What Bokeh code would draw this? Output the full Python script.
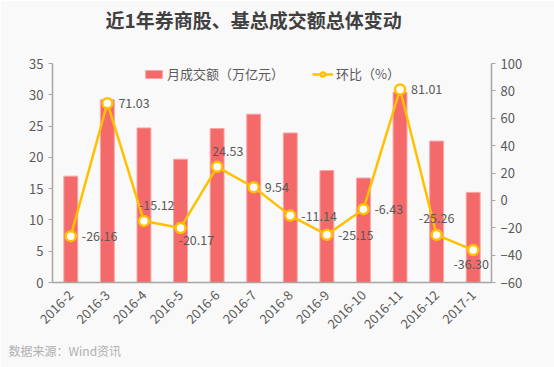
from bokeh.plotting import figure
from bokeh.models import Range1d, LinearAxis, FactorRange, Legend, LegendItem, Title, ColumnDataSource, SingleIntervalTicker
from bokeh.core.properties import value
from bokeh.embed import file_html
from bokeh.resources import INLINE
import math

months = ["2016-2", "2016-3", "2016-4", "2016-5", "2016-6", "2016-7",
          "2016-8", "2016-9", "2016-10", "2016-11", "2016-12", "2017-1"]
turnover = [17.0, 29.2, 24.7, 19.7, 24.6, 26.9, 23.9, 17.9, 16.7, 30.4, 22.6, 14.4]
mom = [-26.16, 71.03, -15.12, -20.17, 24.53, 9.54, -11.14, -25.15, -6.43, 81.01, -25.26, -36.30]
label_place = ["right", "right", "above", "below", "above", "right",
               "right", "right", "right", "right", "above_c", "below_c"]

FONT = "Noto Sans CJK SC"
BG = "#F9F9F9"
BAR = "#F46A6A"
GOLD = "#FFC000"
TXT = "#595959"
AX = "#A6A6A6"

p = figure(width=554, height=367, x_range=FactorRange(*months), y_range=Range1d(0, 35),
           output_backend="svg", toolbar_location=None,
           min_border_left=52, min_border_right=63, min_border_top=63, min_border_bottom=85)
p.background_fill_color = BG
p.border_fill_color = BG
p.outline_line_color = None
p.grid.visible = False
p.extra_y_ranges = {"pct": Range1d(-60, 100)}

src = ColumnDataSource(dict(m=months, t=turnover, r=mom))
bars = p.vbar(x="m", top="t", width=0.38, source=src, fill_color=BAR,
              line_color="#F9A5A5", line_width=1)
line = p.line(x="m", y="r", source=src, y_range_name="pct", line_color=GOLD, line_width=2.5)
pts = p.scatter(x="m", y="r", source=src, y_range_name="pct", size=10, fill_color="white",
                line_color=GOLD, line_width=2.5)

offs = {"right": (11, 0, "left"),
        "above": (-5, 16, "left"),
        "below": (-2, -12, "left"),
        "above_c": (0, 17, "center"),
        "below_c": (-2, -14, "center")}
xo = [offs[k][0] for k in label_place]
yo = [-offs[k][1] for k in label_place]
al = [offs[k][2] for k in label_place]
lsrc = ColumnDataSource(dict(m=months, r=mom, s=["%.2f" % v for v in mom], xo=xo, yo=yo, al=al))
p.text(x="m", y="r", text="s", source=lsrc, y_range_name="pct", x_offset="xo", y_offset="yo",
       text_align="al", text_baseline="middle", text_font=value(FONT),
       text_font_size="12.5px", text_color=TXT)

# axes
xa = p.xaxis[0]
xa.major_label_orientation = math.pi / 4
xa.major_tick_line_color = None
xa.axis_line_color = AX
xa.axis_line_width = 1.5
xa.major_label_text_font = FONT
xa.major_label_text_font_size = "13px"
xa.major_label_text_color = TXT
xa.major_label_standoff = 4

ya = p.yaxis[0]
ya.ticker = SingleIntervalTicker(interval=5)
ya.minor_tick_line_color = None
ya.major_tick_in = 0
ya.major_tick_out = 4
ya.major_tick_line_color = AX
ya.axis_line_color = AX
ya.axis_line_width = 1.5
ya.major_label_text_font = FONT
ya.major_label_text_font_size = "13px"
ya.major_label_text_color = TXT

ra = LinearAxis(y_range_name="pct", ticker=SingleIntervalTicker(interval=20))
ra.minor_tick_line_color = None
ra.major_tick_in = 0
ra.major_tick_out = 4
ra.major_tick_line_color = AX
ra.axis_line_color = AX
ra.axis_line_width = 1.5
ra.major_label_text_font = FONT
ra.major_label_text_font_size = "13px"
ra.major_label_text_color = TXT
p.add_layout(ra, "right")

legend = Legend(items=[LegendItem(label="月成交额（万亿元）", renderers=[bars]),
                       LegendItem(label="环比（%）", renderers=[line, pts])],
                orientation="horizontal", location=(91, 199),
                background_fill_alpha=0, border_line_color=None,
                label_text_font=FONT, label_text_font_size="13px", label_text_color=TXT,
                glyph_width=21, glyph_height=10, spacing=28, padding=0, margin=0,
                label_standoff=3)
p.add_layout(legend, "center")

# spacer between frame and title, then the title itself
p.add_layout(Title(text=" ", text_font_size="1px", standoff=28, text_color=BG), "above")
p.add_layout(Title(text="近1年券商股、基总成交额总体变动", align="left", offset=53, standoff=0,
                   text_font=FONT, text_font_size="19px", text_font_style="bold",
                   text_color="#404040"), "above")
p.add_layout(Title(text="数据来源：Wind资讯", align="left", offset=-44, standoff=6,
                   text_font=FONT, text_font_size="12px", text_font_style="normal",
                   text_color="#B0B0B0"), "below")

open("out.html", "w").write(file_html(p, INLINE))
